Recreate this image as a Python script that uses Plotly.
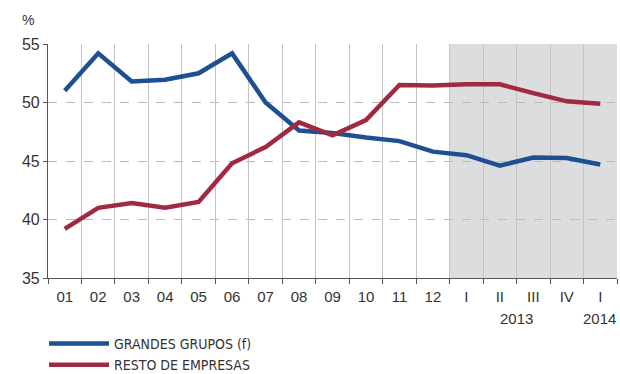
import plotly.graph_objects as go

categories = ["01", "02", "03", "04", "05", "06", "07", "08", "09", "10", "11", "12",
              "I", "II", "III", "IV", "I"]
year_labels = {13.5: "2013", 16: "2014"}
grandes_grupos = [51.0, 54.2, 51.8, 51.95, 52.5, 54.2, 50.0, 47.6, 47.4, 47.0, 46.7, 45.8,
                  45.5, 44.6, 45.3, 45.25, 44.7]
resto_empresas = [39.2, 41.0, 41.4, 41.0, 41.5, 44.8, 46.2, 48.3, 47.2, 48.5, 51.5, 51.45,
                  51.55, 51.55, 50.8, 50.1, 49.9]

x = list(range(len(categories)))
n = len(categories)
FONT = "Liberation Sans, Arial"
COND = "DejaVu Sans Condensed, Liberation Sans Narrow, Liberation Sans"

fig = go.Figure()
fig.add_trace(go.Scatter(x=x, y=grandes_grupos, mode="lines", name="GRANDES GRUPOS (f)",
                         line=dict(color="#1d4f91", width=4.5)))
fig.add_trace(go.Scatter(x=x, y=resto_empresas, mode="lines", name="RESTO DE EMPRESAS",
                         line=dict(color="#a02a42", width=4.5)))
# invisible trace carrying the boundary axis (category separators)
fig.add_trace(go.Scatter(x=[-0.5, n - 0.5], y=[35, 35], xaxis="x2", yaxis="y", mode="lines",
                         line=dict(width=0), showlegend=False, hoverinfo="skip"))

fig.add_shape(type="rect", xref="x", yref="y", x0=11.5, x1=n - 0.5, y0=35, y1=55,
              fillcolor="#dcdddf", line=dict(width=0), layer="below")

annotations = [
    dict(text="%", xref="paper", yref="paper", x=-0.035, y=1.06, showarrow=False,
         xanchor="center", yanchor="bottom", font=dict(size=14, color="#333333")),
]
for xv, lab in year_labels.items():
    last = xv == n - 1
    annotations.append(dict(text=lab, xref="paper" if last else "x", yref="paper",
                            x=1.0 if last else xv, xshift=1 if last else 0, y=-0.13,
                            showarrow=False, xanchor="right" if last else "center",
                            yanchor="top", font=dict(size=15, color="#333333")))

fig.update_layout(
    width=620, height=374,
    margin=dict(l=48, r=3, t=44, b=96, autoexpand=False),
    paper_bgcolor="white", plot_bgcolor="white",
    font=dict(family=FONT, color="#333333", size=15),
    xaxis=dict(range=[-0.5, n - 0.5], tickvals=x, ticktext=categories, showgrid=False,
               ticks="", showline=False, zeroline=False, tickfont=dict(size=15),
               ticklabelstandoff=8, automargin=False),
    xaxis2=dict(range=[-0.5, n - 0.5], overlaying="x", anchor="y",
                tickvals=[i - 0.5 for i in range(n + 1)], showticklabels=False,
                showgrid=True, gridcolor="#c4c4c4", gridwidth=1.3,
                ticks="outside", ticklen=5, tickcolor="#555555",
                showline=True, linecolor="#555555", linewidth=1.2, side="bottom"),
    yaxis=dict(range=[35, 55], tickvals=[35, 40, 45, 50, 55], showgrid=True,
               gridcolor="#bbbbbb", griddash="dash", gridwidth=1,
               ticks="outside", ticklen=4, tickcolor="#555555",
               showline=True, linecolor="#555555", linewidth=1.2, zeroline=False,
               tickfont=dict(size=16), automargin=False),
    legend=dict(x=-0.007, y=0.123, xref="paper", yref="container", xanchor="left",
                yanchor="top", orientation="v", itemwidth=60,
                font=dict(size=14, color="#333333", family=COND), tracegroupgap=2,
                bgcolor="rgba(0,0,0,0)"),
    annotations=annotations,
)

fig.write_html(
    "out.html",
    config={"displayModeBar": False},
    post_script="document.body.style.margin='0';document.body.style.overflow='hidden';",
)
